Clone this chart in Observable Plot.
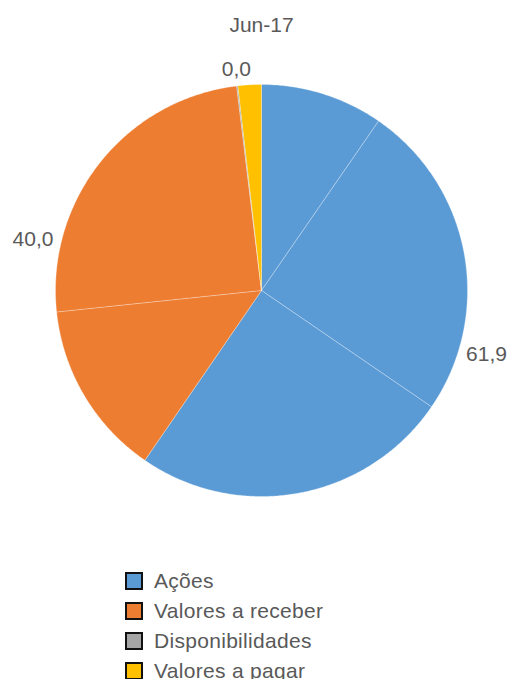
<!DOCTYPE html>
<html>
<head>
<meta charset="utf-8">
<script src="https://cdn.jsdelivr.net/npm/d3@7"></script>
<script src="https://cdn.jsdelivr.net/npm/@observablehq/plot@0.6"></script>
<style>
  html, body { margin: 0; padding: 0; background: #fff; }
  body { width: 518px; height: 679px; overflow: hidden; font-family: "Liberation Sans", Arial, sans-serif; }
  #legend { padding-top: 6px; }
  .row { display: flex; align-items: center; height: 30px; margin-left: 125px; }
  .sw { width: 18px; height: 18px; box-sizing: border-box; border: 2px solid #111; margin-right: 11px; }
  .lb { font-size: 21px; color: #595959; letter-spacing: 0.3px; }
</style>
</head>
<body>
<div id="chart"></div>
<div id="legend"></div>
<script>
// Data
const title = "Jun-17";
const categories = ["Ações", "Valores a receber", "Disponibilidades", "Valores a pagar"];
const colors = ["#5B9BD5", "#ED7D31", "#A5A5A5", "#FFC000"];
// slices in clockwise order from 12 o'clock (a category may have several sub-slices)
const sliceCategory = ["Ações", "Ações", "Ações", "Valores a receber", "Valores a receber", "Disponibilidades", "Valores a pagar"];
const sliceValue = [10.0, 25.9, 26.0, 14.3, 25.7, 0.1, 1.9];
// data labels shown per category
const labelCategory = ["Ações", "Valores a receber", "Disponibilidades"];
const labelText = ["61,9", "40,0", "0,0"];

const total = d3.sum(sliceValue);
const TAU = 2 * Math.PI;

// build slice polygons in data units (unit radius)
const poly = [];
let acc = 0;
sliceValue.forEach((v, i) => {
  const a0 = acc / total * TAU, a1 = (acc + v) / total * TAU;
  acc += v;
  const n = Math.max(2, Math.ceil((a1 - a0) / (Math.PI / 360)));
  poly.push({id: i, cat: sliceCategory[i], x: 0, y: 0});
  for (let k = 0; k <= n; k++) {
    const a = a0 + (a1 - a0) * k / n;
    poly.push({id: i, cat: sliceCategory[i], x: Math.sin(a), y: Math.cos(a)});
  }
  poly.push({id: i, cat: sliceCategory[i], x: 0, y: 0});
});

// label positions: mid angle of each category's total extent
const catStart = {}, catEnd = {};
acc = 0;
sliceValue.forEach((v, i) => {
  const c = sliceCategory[i];
  if (!(c in catStart)) catStart[c] = acc;
  acc += v;
  catEnd[c] = acc;
});
const labels = labelCategory.map((c, i) => {
  const mid = (catStart[c] + catEnd[c]) / 2 / total * TAU;
  const s = Math.sin(mid);
  const r = 1.04;
  return {
    x: Math.sin(mid) * r, y: Math.cos(mid) * r, text: labelText[i],
    anchor: s > 0.5 ? "start" : s < -0.5 ? "end" : "middle"
  };
});

const W = 518, H = 560, CX = 261, CY = 290, R = 206;

const chart = Plot.plot({
  width: W, height: H,
  margin: 0,
  x: {domain: [-CX / R, (W - CX) / R], axis: null},
  y: {domain: [-(H - CY) / R, CY / R], axis: null},
  color: {domain: categories, range: colors},
  style: {fontFamily: "'Liberation Sans', Arial, sans-serif", background: "white"},
  marks: [
    Plot.line(poly, {x: "x", y: "y", z: "id", fill: "cat", stroke: "white", strokeOpacity: 0.35, strokeWidth: 0.8, curve: "linear"}),
    ...["start", "end", "middle"].map(an =>
      Plot.text(labels.filter(d => d.anchor === an), {
        x: "x", y: "y", text: "text", textAnchor: an,
        lineAnchor: an === "middle" ? "bottom" : "middle",
        dy: an === "middle" ? -2 : 0,
        fontSize: 21, fill: "#595959"
      })
    ),
    Plot.text([title], {x: () => 0, frameAnchor: "top", dy: 25, lineAnchor: "middle", text: d => d, fontSize: 21, fill: "#595959"})
  ]
});
document.getElementById("chart").appendChild(chart);

const lg = document.getElementById("legend");
categories.forEach((c, i) => {
  const row = document.createElement("div");
  row.className = "row";
  row.innerHTML = `<div class="sw" style="background:${colors[i]}"></div><span class="lb">${c}</span>`;
  lg.appendChild(row);
});
</script>
</body>
</html>
